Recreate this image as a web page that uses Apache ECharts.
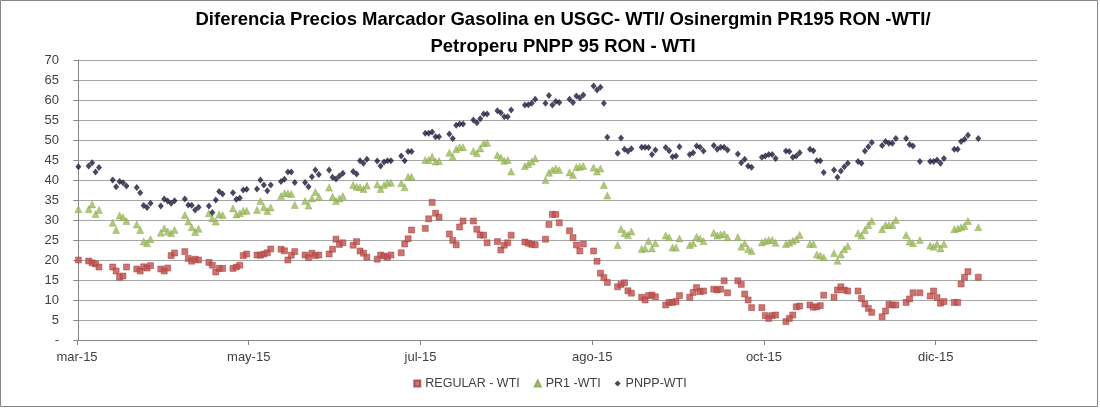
<!DOCTYPE html>
<html>
<head>
<meta charset="utf-8">
<script src="https://cdn.jsdelivr.net/npm/echarts@6/dist/echarts.min.js"></script>
<style>
html,body{margin:0;padding:0;background:#fff;}
#chart{width:1100px;height:409px;}
</style>
</head>
<body>
<div id="chart"></div>
<script>
// Business-day slots: first Friday, then weeks Mon..Fri (null = no quote)
const tickLabels = ["mar-15", "may-15", "jul-15", "ago-15", "oct-15", "dic-15"];
const seriesNames = ["REGULAR - WTI", "PR1 -WTI", "PNPP-WTI"];

const regular = [20,
  19.75, 19.3, 19, 18.25, null,
  18.25, 17.25, 15.7, 16, 18.25,
  17.75, 17.25, 18.3, 18, 18.6,
  17.75, 17.25, 18, 21.1, 21.75,
  22.1, 20.4, 19.7, 20.2, 20,
  19.4, 18.7, 17, 17.9, 17.9,
  17.9, 18.25, 18.7, 21.1, 21.5,
  21.25, 21.2, 21.5, 21.8, 22.75,
  22.7, 22.3, 20, 21.2, 22.1,
  21.25, 20.6, 21.7, 21.1, 21.25,
  21.5, 22.7, 25.2, 23.9, 24.3,
  23.7, 24.6, 22.25, 21.7, 20.7,
  20.2, 21.25, 21, 20.7, 21.25,
  21.8, 24, 25.3, 27.5, null,
  27.9, 30.3, 34.4, 31.7, 30.7,
  26.5, 24.9, 23.8, 28.25, 29.75,
  29.75, 27.7, 26.25, 26.2, 24.3,
  24.6, 22.5, 23.7, 24.3, 26.2,
  null, 24.5, 24.2, 23.9, 23.8,
  25.2, 28.9, 31.4, 31.4, 29.3,
  27.3, 25.6, 23.75, 22.25, 24,
  22.25, 19.7, 16.7, 15.6, 14.4,
  13.3, 13.9, 14.3, 12.3, 11.7,
  10.7, 10, 11.1, 11.25, 10.8,
  8.75, 9.4, 9.4, 9.6, 11.1,
  10.7, 11.9, 13.1, 12.1, 12.25,
  12.7, 12.5, 12.7, 14.8, 11.8,
  14.8, 13.9, 11.5, 10, 8.1,
  8.1, 6.1, 5.4, 6.1, 6.25,
  4.6, 5.4, 6.25, 8.3, 8.5,
  8.75, 8.2, 8.3, 8.6, 11.2,
  10.7, 12.5, 13.3, 12.5, 12.25,
  12.25, 10.4, 9, 7.9, 6.9,
  5.8, 7.25, 8.9, 8.75, 8.75,
  9.4, 10.25, 11.8, null, 11.8,
  11, 12.25, 10.6, 9.2, 9.6,
  9.4, 9.4, 14, 15.7, 17.1,
  15.7];

const pr1 = [32.7,
  32.7, 33.9, 31.5, 32.5, null,
  29.3, 27.5, 31.1, 30.7, 29.75,
  28.9, 27.5, 24.6, 24.2, 25.2,
  26.8, 27.9, 27.1, 26.7, 27.5,
  31.25, 29.6, 28.2, 27, 27.8,
  31.7, 30.4, 29.6, 31.4, 31.25,
  32.9, 31.4, 31.7, 32.3, 32.3,
  32.5, 34.75, 33.2, 32.25, 33.1,
  36, 36.7, 36.7, 36.5, 33.75,
  34.75, 33.6, 35.4, 37, 35.8,
  38.1, 35.8, 34.75, 35.4, 36,
  38.75, 38.3, 38.2, 37.75, 38.6,
  38.9, 37.75, 38.75, 39.3, 39.3,
  39.2, 38.2, 40.8, 40.8, null,
  45, 45, 45.8, 44.6, 44.75,
  46.8, 45.8, 47.7, 48.2, 48.2,
  47.25, 46.7, 47.9, 49.2, 49.3,
  46.25, 45.6, 44.8, 45, 42.1,
  null, 43.5, 44, 44.6, 45.4,
  40, 41.8, 42.5, 42.9, 42.5,
  41.9, 41.25, 43.2, 43.3, 43.5,
  43.1, 42.1, 42.9, 38.75, 36.1,
  23.75, 27.75, 26.7, 26.25, 27.1,
  22.75, 22.9, 24.75, 22.9, 24.2,
  26.1, 25.7, 23.1, 23.1, 25.4,
  23.75, 24.2, 25.8, 25.4, 24.75,
  26.8, 26.1, 26.4, 26.5, 25.7,
  25.7, 23.3, 24.2, 22.75, 22.25,
  24.4, 24.75, 25, 25, 24.3,
  24, 24.3, 24.8, 25.2, 26.25,
  24, 24, 21.4, 21.1, 20.7,
  21.7, 19.8, 21.4, 22.7, 23.5,
  26.7, 26.1, 27.5, 28.75, 29.75,
  27.7, 28.75, 28.75, 28.75, 30,
  26.25, 24.6, 24.2, null, 25,
  23.6, 23.3, 24, 22.9, 24,
  27.7, 27.9, 28.2, 28.5, 29.75,
  28.2];

const pnpp = [43.3,
  43.5, 44.3, 42, 43.1, null,
  40, 38.3, 39.6, 39.3, 38.5,
  38.1, 36.8, 33.6, 33.1, 34.2,
  33.5, 35.25, 34.75, 34.2, 34.8,
  35.25, 33.75, 33.7, 32.5, 33.2,
  33.5, 31.9, 35, 37.1, 36.5,
  36.8, 35.2, 35.5, 37.5, 37.7,
  37.75, 40, 38.75, 37.3, 38.75,
  39.6, 40.2, 42, 42, 39.4,
  39.4, 38.3, 40.8, 42.5, 41.4,
  42.5, 40.7, 40.25, 41, 41.7,
  42.1, 41.5, 44.8, 44.2, 45.2,
  44.75, 43.5, 44.5, 44.8, 44.8,
  46, 44.8, 47.1, 47.1, null,
  51.7, 51.7, 52, 50.8, 50.8,
  51.5, 50.4, 53.7, 54, 54,
  55, 54.3, 55.3, 56.5, 56.5,
  57.3, 56.8, 55.8, 55.8, 57.5,
  null, 58.75, 58.8, 59.2, 60.2,
  59.2, 61.1, 58.75, 59.6, 59.4,
  60.2, 59.4, 61, 60.5, 61.25,
  63.5, 62.5, 63.2, 59.2, 50.7,
  46.7, 50.5, 47.7, 47.2, 47.8,
  48.2, 48.2, 48.1, 46.4, 47.5,
  48.1, 47.3, 45.8, 46, 48.3,
  46.4, 46.8, 48.5, 48.2, 47.25,
  48.6, 47.7, 48.2, 48.2, 47.5,
  46.5, 44.3, 45.2, 43.5, 43.2,
  45.7, 46, 46.4, 46.4, 45.4,
  47.25, 47.1, 45.7, 46, 46.8,
  47.7, 47.3, 44.8, 44.8, 41.9,
  42.5, 40.7, 42.25, 43.3, 44.2,
  44.6, 44.2, 47.25, 48.3, 49.4,
  48.6, 49.6, 49.2, 49.2, 50.4,
  50.4, 48.9, 48.5, null, 44.6,
  44.6, 44.6, 45, 44.2, 45.4,
  47.7, 47.7, 49.6, 50.2, 51.2,
  50.4];

// slot index -> calendar day offset (slot 0 = Friday, then Mon..Fri weeks)
function slotDay(s) {
  if (s === 0) return 0;
  const k = Math.floor((s - 1) / 5), i = (s - 1) % 5;
  return 3 + 7 * k + i;
}
function toPoints(arr) {
  const out = [];
  arr.forEach((v, s) => { if (v !== null) out.push([slotDay(s), v]); });
  return out;
}

const xMin = -0.4, tickStep = 50, xMax = 279.1;
const xTicks = tickLabels.map((_, i) => xMin + i * tickStep);
const font = "'Liberation Sans', Arial, sans-serif";

const chart = echarts.init(document.getElementById('chart'), null, {renderer: 'canvas'});
chart.setOption({
  animation: false,
  backgroundColor: '#fff',
  title: {
    text: 'Diferencia Precios Marcador Gasolina en USGC- WTI/ Osinergmin PR195 RON -WTI/\nPetroperu PNPP 95 RON - WTI',
    left: 558, top: 1, textAlign: 'center',
    textStyle: {fontFamily: font, fontSize: 18.5, fontWeight: 'bold', color: '#000', lineHeight: 27}
  },
  grid: {left: 77, right: 63, top: 60, bottom: 69, containLabel: false},
  legend: {
    bottom: 14, left: 'center',
    itemWidth: 6, itemHeight: 6, itemGap: 14,
    textStyle: {fontFamily: font, fontSize: 12.5, color: '#404040'},
    data: seriesNames
  },
  xAxis: {
    type: 'value', min: xMin, max: xMax,
    axisLine: {show: true, lineStyle: {color: '#868686'}},
    axisTick: {show: true, length: 5, customValues: xTicks, lineStyle: {color: '#868686'}},
    axisLabel: {
      customValues: xTicks, margin: 11,
      fontFamily: font, fontSize: 13, color: '#404040',
      formatter: v => tickLabels[Math.round((v - xMin) / tickStep)] || ''
    },
    splitLine: {show: false}
  },
  yAxis: {
    type: 'value', min: 0, max: 70, interval: 5,
    axisLine: {show: true, lineStyle: {color: '#868686'}},
    axisTick: {show: true, length: 5, lineStyle: {color: '#868686'}},
    axisLabel: {
      margin: 18, fontFamily: font, fontSize: 13, color: '#404040',
      formatter: v => v === 0 ? '-' : String(v)
    },
    splitLine: {show: true, lineStyle: {color: '#A6A6A6', width: 1}}
  },
  series: [
    {
      name: seriesNames[0], type: 'scatter', data: toPoints(regular),
      symbol: 'rect', symbolSize: 6,
      itemStyle: {color: '#C0504D', borderColor: '#A03C39', borderWidth: 0.6}
    },
    {
      name: seriesNames[1], type: 'scatter', data: toPoints(pr1),
      symbol: 'triangle', symbolSize: 7,
      itemStyle: {color: '#9BBB59', borderColor: '#86A34A', borderWidth: 0.5}
    },
    {
      name: seriesNames[2], type: 'scatter', data: toPoints(pnpp),
      symbol: 'diamond', symbolSize: [6, 7],
      itemStyle: {color: '#1C1A3C'}
    }
  ],
  graphic: [{
    type: 'rect', silent: true, z: 100,
    shape: {x: 0.5, y: 0.5, width: 1097, height: 406},
    style: {fill: 'none', stroke: '#868686', lineWidth: 1}
  }]
});
</script>
</body>
</html>
